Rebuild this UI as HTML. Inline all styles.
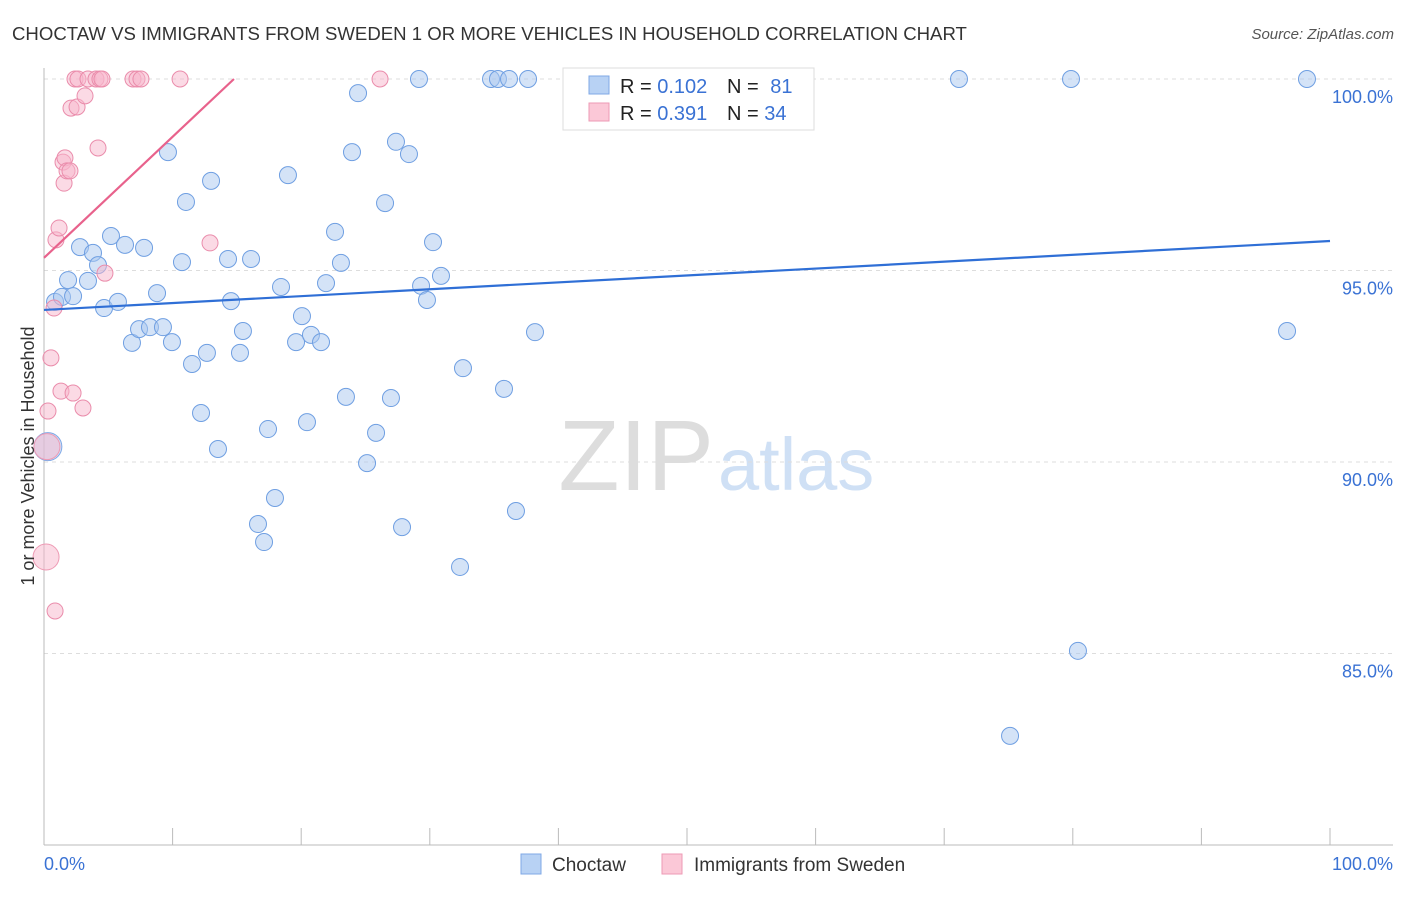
<!DOCTYPE html>
<html><head><meta charset="utf-8"><style>
body{margin:0;background:#fff;font-family:"Liberation Sans",sans-serif;}
svg text{font-family:"Liberation Sans",sans-serif;}
</style></head><body>
<svg id="chart" width="1406" height="892" xmlns="http://www.w3.org/2000/svg">
<text x="12" y="40" font-size="18.6" fill="#333">CHOCTAW VS IMMIGRANTS FROM SWEDEN 1 OR MORE VEHICLES IN HOUSEHOLD CORRELATION CHART</text>
<text x="1394" y="39" font-size="15" fill="#555" text-anchor="end" font-style="italic">Source: ZipAtlas.com</text>
<text x="714" y="490" font-size="100" fill="#ddd" text-anchor="end" font-family="Liberation Serif">ZIP</text>
<text x="718" y="490" font-size="74" fill="#cfe0f5">atlas</text>
<g id="grid"></g><g id="marks"></g>
<text transform="translate(34,456) rotate(-90)" font-size="18" fill="#333" text-anchor="middle">1 or more Vehicles in Household</text>
<g>
<rect x="563" y="68" width="251" height="62" fill="#fff" stroke="#ddd"/>
<rect x="589" y="76" width="20" height="18" fill="#b8d2f4" stroke="#7fa8e6"/>
<rect x="589" y="103" width="20" height="18" fill="#fbc8d7" stroke="#ee9ab4"/>
<text x="620" y="93" font-size="20" fill="#222">R = <tspan fill="#3a72d4">0.102</tspan></text>
<text x="727" y="93" font-size="20" fill="#222">N = <tspan fill="#3a72d4" dx="6">81</tspan></text>
<text x="620" y="120" font-size="20" fill="#222">R = <tspan fill="#3a72d4">0.391</tspan></text>
<text x="727" y="120" font-size="20" fill="#222">N = <tspan fill="#3a72d4">34</tspan></text>
</g>
<g>
<rect x="521" y="854" width="20" height="20" fill="#b8d2f4" stroke="#7fa8e6"/>
<text x="552" y="871" font-size="19" fill="#333">Choctaw</text>
<rect x="662" y="854" width="20" height="20" fill="#fbc8d7" stroke="#ee9ab4"/>
<text x="694" y="871" font-size="19" fill="#333">Immigrants from Sweden</text>
</g>
</svg>
<script>
const yTicks=[100,95,90,85];
const yTickLabels=["100.0%","95.0%","90.0%","85.0%"];
const xTickLabels=["0.0%","100.0%"];
const blueX=[0.86,1.4,1.87,2.26,2.8,3.42,3.81,4.2,4.67,5.21,5.75,6.3,6.84,7.39,7.78,8.24,8.79,9.25,9.64,9.95,10.73,11.04,11.51,12.21,12.67,12.99,13.53,14.31,14.54,15.24,15.47,16.1,16.64,17.11,17.42,17.96,18.43,18.97,19.6,20.06,20.45,20.76,21.54,21.93,22.63,23.09,23.48,23.95,24.42,25.12,25.82,26.52,26.98,27.37,27.84,28.38,29.16,29.32,29.78,30.25,30.87,32.35,32.58,34.76,35.3,35.77,36.16,36.7,37.64,38.18,71.15,75.12,79.86,80.4,96.66,98.21];
const blueY=[94.18,94.31,94.75,94.33,95.61,94.73,95.46,95.14,94.02,95.9,94.18,95.67,93.11,93.47,95.59,93.52,94.41,93.52,98.09,93.13,95.22,96.79,92.56,91.28,92.85,97.34,90.34,95.3,94.2,92.85,93.42,95.3,88.38,87.91,90.86,89.06,94.57,97.49,93.13,93.81,91.04,93.32,93.13,94.67,96.01,95.2,91.7,98.09,99.63,89.97,90.76,96.76,91.67,98.36,88.3,98.04,100,94.6,94.23,95.74,94.86,87.26,92.45,100,100,91.91,100,88.72,100,93.39,100,82.85,100,85.07,93.42,100];
const blueBigX=[0.3];const blueBigY=[90.4];
const pinkX=[0.31,0.54,0.86,0.78,0.93,1.17,1.32,1.48,1.56,1.63,1.79,2.02,2.1,2.26,2.41,2.57,2.64,3.03,3.19,3.42,4.04,4.2,4.35,4.51,4.74,6.92,7.23,7.54,10.58,12.91,26.13];
const pinkY=[91.33,92.72,86.11,94.02,95.8,96.11,91.85,97.83,97.28,97.94,97.6,97.6,99.24,91.8,100,99.27,100,91.41,99.56,100,100,98.2,100,100,94.93,100,100,100,100,95.72,100];
const pinkBigX=[0.23,0.16];const pinkBigY=[90.4,87.52];
const blueTrend=[93.97,95.77];
const pinkTrend=[95.33,100];const pinkTrendEndX=14.77;
const NS="http://www.w3.org/2000/svg";
const sx=v=>44+v*12.86, sy=v=>79+(100-v)*38.3;
const grid=document.getElementById('grid'), marks=document.getElementById('marks');
function mk(tag,a,p){const e=document.createElementNS(NS,tag);for(const k in a)e.setAttribute(k,a[k]);p.appendChild(e);return e;}
yTicks.forEach((t,i)=>{
 const l=mk('line',{x1:44,x2:1393,y1:sy(t),y2:sy(t),stroke:'#ddd','stroke-dasharray':'4,4'},grid);
 
 
 const tx=mk('text',{x:1393,y:sy(t)+24,'font-size':18,fill:'#3a72d4','text-anchor':'end'},grid);
 tx.textContent=yTickLabels[i];
 
 
});
const ax=mk('line',{x1:44,x2:44,y1:68,y2:845,stroke:'#bbb'},grid);


const bx=mk('line',{x1:44,x2:1393,y1:845,y2:845,stroke:'#bbb'},grid);


for(let i=0;i<=10;i++){const t=mk('line',{x1:sx(i*10),x2:sx(i*10),y1:828,y2:845,stroke:'#bbb'},grid);
 
 }
[[0,'start',44],[100,'end',1393]].forEach((d,i)=>{const t=mk('text',{x:d[2],y:870,'font-size':18,fill:'#3a72d4','text-anchor':d[1]},grid);t.textContent=xTickLabels[i];
 
 });
function dots(X,Y,r,fill,stroke,name){X.forEach((x,i)=>{const c=mk('circle',{cx:sx(x),cy:sy(Y[i]),r:r,fill:fill,'fill-opacity':0.5,stroke:stroke,'stroke-width':1},marks);
 
 });}
dots(blueBigX,blueBigY,14,'#a9c8f0','#7fa8e6','choctaw-point');
dots(pinkBigX,pinkBigY,13,'#f7b6cb','#ee9ab4','sweden-point');
dots(blueX,blueY,8.5,'#a9c8f0','#6f9fe2','choctaw-point');
dots(pinkX,pinkY,8,'#f7b6cb','#ea8cab','sweden-point');
const bl=mk('line',{x1:sx(0),y1:sy(blueTrend[0]),x2:sx(100),y2:sy(blueTrend[1]),stroke:'#2f6fd6','stroke-width':2.2},marks);


const pl=mk('line',{x1:sx(0),y1:sy(pinkTrend[0]),x2:sx(pinkTrendEndX),y2:sy(pinkTrend[1]),stroke:'#e8628c','stroke-width':2.2},marks);


</script>
</body></html>
